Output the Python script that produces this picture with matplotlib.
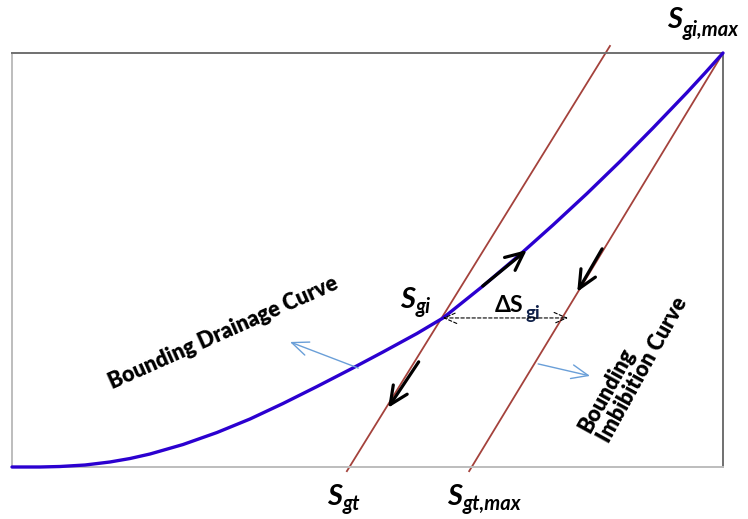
import matplotlib
matplotlib.use('Agg')
import matplotlib.pyplot as plt
import numpy as np

# bounding drainage curve (normalised saturation units, box = 0..1)
drain_x = [0.0, 0.0394, 0.0675, 0.1027, 0.1378, 0.1660, 0.1941, 0.2405, 0.2883,
           0.3347, 0.3812, 0.4290, 0.4754, 0.5218, 0.5696, 0.6062, 0.6624, 0.7145,
           0.7609, 0.8087, 0.8551, 0.9015, 0.9494, 0.9747, 1.0]
drain_y = [0.0, 0.0, 0.0012, 0.0048, 0.0121, 0.0205, 0.0314, 0.0543, 0.0833,
           0.1159, 0.1534, 0.1944, 0.2355, 0.2778, 0.3225, 0.3599, 0.4372, 0.5133,
           0.5845, 0.6606, 0.7379, 0.8188, 0.9046, 0.9517, 1.0]

# scanning line through S_gi and the bounding imbibition line
scan_x = [0.471, 0.841]
scan_y = [-0.010, 1.017]
imb_x = [0.643, 1.0]
imb_y = [-0.010, 1.0]

# reversal point and direction arrows
sgi_pt = (0.606, 0.360)
dsgi_end = (0.782, 0.360)
dir_arrows = [((0.662, 0.437), (0.724, 0.524)),
              ((0.830, 0.527), (0.795, 0.423)),
              ((0.572, 0.254), (0.529, 0.143))]
label_arrows = [((0.487, 0.239), (0.391, 0.302)),
                ((0.740, 0.249), (0.813, 0.220))]

plt.rcParams['font.family'] = ['Lato', 'DejaVu Sans']

fig = plt.figure(figsize=(7.48, 5.19), dpi=100)
ax = fig.add_axes([12/748, 52/519, 711/748, 414/519])
ax.set_xlim(0, 1)
ax.set_ylim(0, 1)
ax.set_xticks([])
ax.set_yticks([])
for side in ['left', 'bottom']:
    ax.spines[side].set_color('#bdbdbd')
    ax.spines[side].set_linewidth(1.4)
for side in ['top', 'right']:
    ax.spines[side].set_color('#707070')
    ax.spines[side].set_linewidth(1.4)

ax.plot(scan_x, scan_y, color='#a4423c', lw=1.3, clip_on=False, zorder=2)
ax.plot(imb_x, imb_y, color='#a4423c', lw=1.3, clip_on=False, zorder=2)
ax.plot(drain_x, drain_y, color='#2b00d0', lw=2.4, clip_on=False, zorder=3,
        solid_capstyle='round', solid_joinstyle='round')

for start, end in dir_arrows:
    ax.annotate('', xy=end, xytext=start,
                arrowprops=dict(arrowstyle='->,head_length=0.65,head_width=0.3',
                                color='black', lw=2.3, mutation_scale=20,
                                shrinkA=0, shrinkB=0), zorder=4)
for start, end in label_arrows:
    ax.annotate('', xy=end, xytext=start,
                arrowprops=dict(arrowstyle='->,head_length=0.6,head_width=0.25',
                                color='#6a9fd8', lw=1.0, mutation_scale=20,
                                shrinkA=0, shrinkB=0), zorder=4)

# delta S_gi span
ax.annotate('', xy=dsgi_end, xytext=sgi_pt,
            arrowprops=dict(arrowstyle='<->,head_length=0.5,head_width=0.22',
                            color='black', lw=0.8, ls=(0, (3, 2)),
                            mutation_scale=18, shrinkA=0, shrinkB=0), zorder=4)

def sat_label(x, y, main, sub, dx, dy, size=21, subsize=14.5, style='italic',
              subcolor='black'):
    ax.text(x, y, main, fontsize=size, fontweight='bold', fontstyle=style,
            color='black', ha='left', va='baseline', clip_on=False)
    ax.text(x + dx, y + dy, sub, fontsize=subsize, fontweight='bold',
            fontstyle=style, color=subcolor, ha='left', va='baseline', clip_on=False)

sat_label(0.921, 1.060, 'S', 'gi,max', 0.0225, -0.020)
sat_label(0.546, 0.384, 'S', 'gi', 0.0215, -0.011)
sat_label(0.443, -0.092, 'S', 'gt', 0.0225, -0.011)
sat_label(0.612, -0.092, 'S', 'gt,max', 0.0225, -0.011)
sat_label(0.679, 0.374, '\u0394S', 'gi', 0.043, -0.016, size=16.5, subsize=13.5,
          style='normal', subcolor='#10214a')

ax.text(0.297, 0.323, 'Bounding Drainage Curve', fontsize=15.5, fontweight='heavy',
        rotation=24, rotation_mode='anchor', ha='center', va='center')
ax.text(0.874, 0.247, 'Bounding\nImbibition Curve', fontsize=15.5, fontweight='heavy',
        rotation=61, rotation_mode='anchor', ha='center', va='center',
        multialignment='left', linespacing=1.05)

fig.savefig('out.png', dpi=100)
